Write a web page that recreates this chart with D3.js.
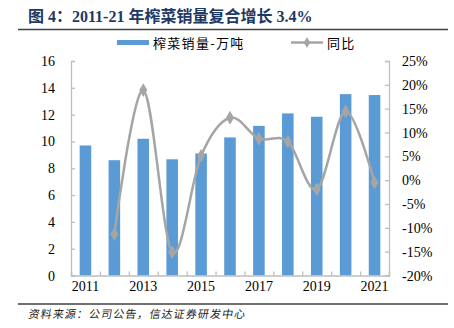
<!DOCTYPE html>
<html><head><meta charset="utf-8">
<script src="https://cdn.jsdelivr.net/npm/d3@7"></script>
<style>
body{margin:0;background:#fff;}
svg{display:block;}
</style></head>
<body>
<svg id="c" width="454" height="328"></svg>
<script>
const years = ["2011","2012","2013","2014","2015","2016","2017","2018","2019","2020","2021"];
const sales = [9.7, 8.6, 10.2, 8.67, 9.1, 10.3, 11.16, 12.09, 11.84, 13.53, 13.46];
const yoyYears = ["2012","2013","2014","2015","2016","2017","2018","2019","2020","2021"];
const yoy = [-11.3, 18.9, -15.1, 5.1, 13.1, 8.7, 8.1, -1.9, 14.4, -0.5];
const leftTicks = [0,2,4,6,8,10,12,14,16];
const rightTicks = [-20,-15,-10,-5,0,5,10,15,20,25];
const xLabels = ["2011","2013","2015","2017","2019","2021"];
const title = "图 4：2011-21 年榨菜销量复合增长 3.4%";
const source = "资料来源：公司公告，信达证券研发中心";
const legendBar = "榨菜销量-万吨";
const legendLine = "同比";

const svg = d3.select("#c");
const serif = "'Liberation Serif','Times New Roman','Noto Sans CJK SC',serif";
const cjk = "'Liberation Serif','Noto Sans CJK SC',sans-serif";
const L = 71, R = 389, T = 61, B = 275.5;

const x = d3.scaleBand().domain(years).range([L, R]).paddingInner(0.6).paddingOuter(0.3);
const xb = d3.scaleBand().domain(years).range([L, R]);
const yl = d3.scaleLinear().domain([0,16]).range([B, T]);
const yr = d3.scaleLinear().domain([-20,25]).range([B, T]);

// title
svg.append("text").attr("x", 28).attr("y", 22).attr("fill", "#1f3864")
  .attr("font-family", cjk).attr("font-weight", "bold").attr("font-size", 16).text(title);
svg.append("line").attr("x1", 18).attr("x2", 448).attr("y1", 29.5).attr("y2", 29.5)
  .attr("stroke", "#404040").attr("stroke-width", 1.5);
svg.append("line").attr("x1", 18).attr("x2", 448).attr("y1", 304).attr("y2", 304)
  .attr("stroke", "#404040").attr("stroke-width", 1.5);
svg.append("text").attr("y", 318).attr("fill", "#222")
  .attr("font-family", "'Noto Sans CJK SC',sans-serif")
  .attr("font-size", 11).attr("letter-spacing", 1.1).text(source)
  .attr("transform", "skewX(-10)").attr("x", 28 + 318*Math.tan(10*Math.PI/180));

// bars
svg.append("g").selectAll("rect").data(years).join("rect")
  .attr("x", d => x(d)).attr("width", x.bandwidth())
  .attr("y", (d,i) => yl(sales[i])).attr("height", (d,i) => B - yl(sales[i]))
  .attr("fill", "#5b9bd5");

// axes
const axisColor = "#bfbfbf";
const gl = svg.append("g").attr("transform", `translate(${L},0)`)
  .call(d3.axisRight(yl).tickValues(leftTicks).tickSize(4).tickFormat(""));
const gr = svg.append("g").attr("transform", `translate(${R},0)`)
  .call(d3.axisLeft(yr).tickValues(rightTicks).tickSize(4).tickFormat(""));
const bTicks = years.map(d => xb(d)).concat([R]);
const gx = svg.append("g").attr("transform", `translate(0,${B})`)
  .call(d3.axisTop(d3.scaleLinear().domain([L,R]).range([L,R])).tickValues(bTicks).tickSize(4).tickFormat(""));
[gl, gr, gx].forEach(g => {
  g.selectAll("path").attr("stroke", axisColor).attr("stroke-width", 1.3);
  g.selectAll("line").attr("stroke", axisColor).attr("stroke-width", 1.3);
});

// tick labels
svg.append("g").selectAll("text").data(leftTicks).join("text")
  .attr("x", 55).attr("y", d => yl(d) + 5).attr("text-anchor", "end")
  .attr("font-family", serif).attr("font-size", 14).attr("fill", "#000").text(d => d);
svg.append("g").selectAll("text").data(rightTicks).join("text")
  .attr("x", 402).attr("y", d => yr(d) + 5).attr("text-anchor", "start")
  .attr("font-family", serif).attr("font-size", 14).attr("fill", "#000").text(d => d + "%");
svg.append("g").selectAll("text").data(xLabels).join("text")
  .attr("x", d => xb(d) + xb.bandwidth()/2).attr("y", 291).attr("text-anchor", "middle")
  .attr("font-family", serif).attr("font-size", 14).attr("fill", "#000").text(d => d);

// line
const pts = yoyYears.map((d,i) => [xb(d) + xb.bandwidth()/2, yr(yoy[i])]);
svg.append("path").attr("d", d3.line().curve(d3.curveCatmullRom.alpha(0))(pts))
  .attr("fill", "none").attr("stroke", "#a5a5a5").attr("stroke-width", 2.5);
const diamond = d3.symbol().type(d3.symbolDiamond).size(55);
svg.append("g").selectAll("path").data(pts).join("path")
  .attr("transform", d => `translate(${d[0]},${d[1]})`).attr("d", diamond)
  .attr("fill", "#a5a5a5");

// legend
svg.append("rect").attr("x", 117).attr("y", 40).attr("width", 32).attr("height", 5).attr("fill", "#5b9bd5");
svg.append("text").attr("x", 153).attr("y", 47.5).attr("font-family", "'Noto Sans CJK SC',sans-serif")
  .attr("font-size", 13).attr("letter-spacing", 1.3).attr("fill", "#000").text(legendBar);
svg.append("line").attr("x1", 291).attr("x2", 323).attr("y1", 42.5).attr("y2", 42.5)
  .attr("stroke", "#a5a5a5").attr("stroke-width", 2.5);
svg.append("path").attr("transform", "translate(307,42.5)").attr("d", d3.symbol().type(d3.symbolDiamond).size(35)).attr("fill", "#a5a5a5");
svg.append("text").attr("x", 327).attr("y", 47.5).attr("font-family", "'Noto Sans CJK SC',sans-serif")
  .attr("font-size", 13).attr("letter-spacing", 1.3).attr("fill", "#000").text(legendLine);
</script>
</body></html>
